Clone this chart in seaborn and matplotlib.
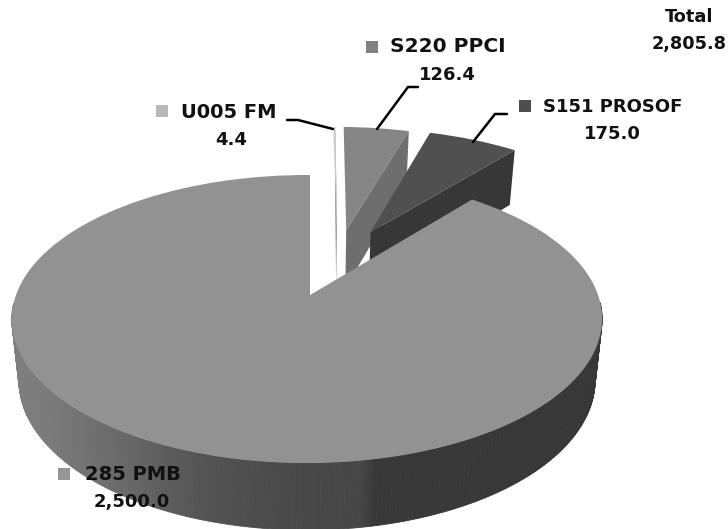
#!env python3

import numpy as np
import matplotlib
matplotlib.use("Agg")
import matplotlib.pyplot as plt
import matplotlib.transforms as mtrans
import seaborn as sns

names = ["U005 FM", "S220 PPCI", "S151 PROSOF", "285 PMB"]
values = [4.4, 126.4, 175.0, 2500.0]
value_labels = ["4.4", "126.4", "175.0", "2,500.0"]
total_label = "2,805.8"

top_colors = ["#c9c9c9", "#858585", "#505050", "#929292"]
wall_colors = ["#8a8a8a", "#6e6e6e", "#373737", None]
key_colors = ["#b8b8b8", "#808080", "#4e4e4e", "#959595"]
# how far each slice is pulled out of the pie (pie units)
pull_x = [0.10, 0.135, 0.225, 0.0]
pull_y = [0.50, 0.503, 0.486, 0.0]

sns.set_theme(style="white")
plt.rcParams["font.family"] = ["DejaVu Sans"]


# The chart is a tilted 3D pie, so the disc goes through a perspective map
class Plane(mtrans.Transform):
    input_dims = 2
    output_dims = 2

    def __init__(self, cy, rx, ry):
        super().__init__()
        self.cy, self.rx, self.ry = cy, rx, ry

    def transform_non_affine(self, xy):
        xy = np.asarray(xy, dtype=float)
        u, v = xy[:, 0], xy[:, 1]
        w = 1 + 0.1667 * v + 0.0102 * u
        return np.column_stack([310 + self.rx * u / w, self.cy - self.ry * v / w])


top = Plane(295, 291, 140)
bottom = Plane(355.4, 284, 145.5)

fig, ax = plt.subplots(figsize=(7.28, 5.29), dpi=100)
fig.subplots_adjust(0, 0, 1, 1)

wedges = ax.pie(values, startangle=90, counterclock=False, colors=top_colors,
                wedgeprops={"linewidth": 0})[0]
ax.set_aspect("auto")
ax.set_xlim(0, 728)
ax.set_ylim(529, 0)
ax.axis("off")


def rim(wedge, angles):
    a = np.radians(angles)
    return np.column_stack([wedge.center[0] + np.cos(a), wedge.center[1] + np.sin(a)])


def wall_grey(x):
    g = np.interp(x, [12, 60, 110, 200, 300, 362, 375, 602],
                  [128, 120, 108, 84, 72, 70, 56, 55])
    return (g / 255, g / 255, g / 255)


for i, w in enumerate(wedges):
    w.set_center((pull_x[i], pull_y[i]))
    w.set_transform(top + ax.transData)
    w.set_zorder(10 + 2 * i)

    if i < 3:
        # the cut face on the clockwise side of a pulled out slice
        edge = rim(w, [w.theta1])
        apex = np.array([[pull_x[i], pull_y[i]]])
        pts = np.vstack([top.transform_non_affine(apex), top.transform_non_affine(edge),
                         bottom.transform_non_affine(edge), bottom.transform_non_affine(apex)])
        ax.fill(pts[:, 0], pts[:, 1], color=wall_colors[i], lw=0, zorder=9 + 2 * i)
    else:
        # outer wall of the big slice, shaded left to right, front half only
        angles = np.linspace(w.theta1, w.theta2, 400)
        angles = angles[np.sin(np.radians(angles)) < -0.05]
        edge = rim(w, angles)
        up = top.transform_non_affine(edge)
        low = bottom.transform_non_affine(edge)
        for k in range(len(angles) - 1):
            quad = np.vstack([up[k:k + 2], low[k:k + 2][::-1]])
            ax.fill(quad[:, 0], quad[:, 1], color=wall_grey(quad[:, 0].mean()),
                    lw=0.6, zorder=9 + 2 * i)

# leader lines
ax.plot([287, 298, 333], [120, 120, 129], color="black", lw=1.8, zorder=30)
ax.plot([377, 408, 418], [129, 87, 87], color="black", lw=1.8, zorder=30)
ax.plot([473, 495, 507], [142, 114, 114], color="black", lw=1.8, zorder=30)

# labels
label_font = dict(fontweight="bold", color="#111111", zorder=40, ha="center", va="center")
name_sizes = [14, 14.5, 13, 14]
name_pos = [(229, 112), (448, 47), (613, 107), (133, 474)]
value_pos = [(231, 140), (447, 75), (612, 134), (132, 502)]
key_pos = [(162, 111), (372, 47), (525, 106), (64, 474)]
for i in range(4):
    ax.text(*name_pos[i], names[i], fontsize=name_sizes[i], **label_font)
    ax.text(*value_pos[i], value_labels[i], fontsize=13, **label_font)
    ax.plot(*key_pos[i], marker="s", ms=8.8, mew=0, color=key_colors[i], zorder=40)

ax.text(689, 17, "Total", fontsize=12.8, **label_font)
ax.text(689, 44, total_label, fontsize=12.8, **label_font)

fig.savefig("out.png", dpi=100)
